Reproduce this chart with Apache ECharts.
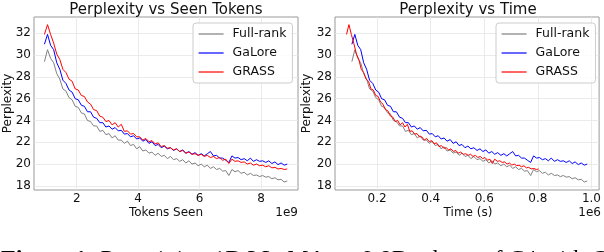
<!DOCTYPE html>
<html><head><meta charset="utf-8">
<script src="https://cdn.jsdelivr.net/npm/echarts@6/dist/echarts.min.js"></script>
<style>html,body{margin:0;padding:0;background:#fff}#c{width:604px;height:252px}</style>
</head><body><div id="c"></div><script>
// tokens seen (x 1e9)
const tokens = [0.95,1.05,1.15,1.25,1.35,1.45,1.55,1.65,1.75,1.85,
1.95,2.05,2.15,2.25,2.35,2.45,2.55,2.65,2.75,2.85,
2.95,3.05,3.15,3.25,3.35,3.45,3.55,3.65,3.75,3.85,
3.95,4.05,4.15,4.25,4.35,4.45,4.55,4.65,4.75,4.85,
4.95,5.05,5.15,5.25,5.35,5.45,5.55,5.65,5.75,5.85,
5.95,6.05,6.15,6.25,6.35,6.45,6.55,6.65,6.75,6.85,
6.95,7.05,7.15,7.25,7.35,7.45,7.55,7.65,7.75,7.85,
7.95,8.05,8.15,8.25,8.35,8.45,8.55,8.65,8.75,8.85];
// wall time (x 1e6 s) for Full-rank and GaLore
const timeFullGalore = [0.106,0.117,0.128,0.139,0.150,0.161,0.172,0.184,0.195,0.206,
0.217,0.228,0.239,0.250,0.261,0.272,0.284,0.295,0.306,0.317,
0.328,0.339,0.350,0.361,0.372,0.384,0.395,0.406,0.417,0.428,
0.439,0.450,0.461,0.473,0.484,0.495,0.506,0.517,0.528,0.539,
0.550,0.561,0.573,0.584,0.595,0.606,0.617,0.628,0.639,0.650,
0.662,0.673,0.684,0.695,0.706,0.717,0.728,0.739,0.750,0.761,
0.773,0.784,0.795,0.806,0.817,0.828,0.839,0.850,0.862,0.873,
0.884,0.895,0.906,0.917,0.928,0.939,0.951,0.962,0.973,0.984];
// wall time (x 1e6 s) for GRASS
const timeGrass = [0.086,0.095,0.104,0.113,0.123,0.132,0.141,0.150,0.159,0.168,
0.177,0.186,0.195,0.204,0.213,0.222,0.231,0.240,0.250,0.259,
0.268,0.277,0.286,0.295,0.304,0.313,0.322,0.331,0.340,0.349,
0.358,0.367,0.376,0.385,0.395,0.404,0.413,0.422,0.431,0.440,
0.449,0.458,0.467,0.476,0.485,0.494,0.503,0.512,0.522,0.531,
0.540,0.549,0.558,0.567,0.576,0.585,0.594,0.603,0.612,0.621,
0.630,0.639,0.649,0.658,0.667,0.676,0.685,0.694,0.703,0.712,
0.721,0.730,0.739,0.748,0.757,0.766,0.775,0.785,0.794,0.803];
const fullRank = [29.4,30.5,29.7,29.3,28.3,27.8,26.9,26.7,26.1,25.9,
25.3,25.2,24.7,24.6,24.0,23.9,23.5,23.5,23.0,23.1,
22.7,22.8,22.4,22.6,22.2,22.2,21.9,22.1,21.7,21.8,
21.4,21.6,21.2,21.3,21.0,21.1,20.8,21.0,20.7,20.8,
20.5,20.7,20.4,20.5,20.25,20.4,20.1,20.3,20.0,20.1,
19.85,20.0,19.75,19.9,19.6,19.75,19.5,19.6,19.35,19.4,
18.95,19.5,19.3,19.4,19.15,19.25,19.0,19.15,18.95,19.0,
18.85,18.95,18.8,18.85,18.65,18.75,18.55,18.6,18.35,18.45];
const galore = [31.0,31.9,30.9,30.5,29.3,28.7,27.7,27.4,26.8,26.6,
26.0,25.9,25.4,25.3,24.8,24.8,24.3,24.2,23.8,23.8,
23.4,23.5,23.2,23.35,23.05,23.1,22.75,22.8,22.5,22.6,
22.3,22.4,22.1,22.25,21.9,22.05,21.7,21.8,21.5,21.65,
21.4,21.5,21.25,21.4,21.15,21.3,21.0,21.15,20.9,21.05,
20.8,20.95,20.75,20.95,21.15,20.75,20.8,20.55,20.55,20.35,
20.15,20.75,20.55,20.6,20.4,20.5,20.3,20.55,20.25,20.4,
20.25,20.3,20.15,20.3,20.05,20.2,19.95,20.1,19.9,20.0];
const grass = [31.9,32.8,31.9,31.1,30.1,29.6,28.7,28.4,27.8,27.6,
26.9,26.8,26.3,26.2,25.7,25.5,25.0,24.9,24.4,24.3,
23.9,24.0,23.6,23.8,23.4,23.65,23.0,23.05,22.75,22.8,
22.5,22.5,22.2,22.35,22.05,22.15,21.85,21.95,21.6,21.7,
21.45,21.5,21.3,21.4,21.15,21.25,21.0,21.1,20.9,20.95,
20.8,20.9,20.7,20.8,20.6,20.7,20.5,20.6,20.35,20.45,
20.05,20.45,20.25,20.3,20.15,20.2,20.0,20.1,19.9,20.0,
19.85,19.9,19.75,19.85,19.65,19.7,19.55,19.6,19.5,19.55];
const seriesNames = ['Full-rank','GaLore','GRASS'];
const seriesColors = ['#808080','#0000ff','#ff0000'];
const tokenTicks = [2,4,6,8];
const timeTicks = [0.2,0.4,0.6,0.8,1.0];
const ppxTicks = [18,20,22,24,26,28,30,32];

const FONT = 'DejaVu Sans';
const TXT = '#111';
const pair = (xs, ys) => xs.map((x, i) => [x, ys[i]]);

function xAxis(grid, min, max, ticks, fmt) {
  return {
    type: 'value', gridIndex: grid, min, max,
    axisLine: {show: false},
    axisTick: {show: false, customValues: ticks},
    axisLabel: {customValues: ticks, margin: 3, fontSize: 12, fontFamily: FONT, color: TXT, formatter: fmt},
    splitLine: {show: true, lineStyle: {color: '#e6e6e6', width: 0.8}}
  };
}
function yAxis(grid) {
  return {
    type: 'value', gridIndex: grid, min: 17.62, max: 33.5,
    axisLine: {show: false},
    axisTick: {show: false, customValues: ppxTicks},
    axisLabel: {customValues: ppxTicks, margin: 3, fontSize: 12, fontFamily: FONT, color: TXT},
    splitLine: {show: true, lineStyle: {color: '#e6e6e6', width: 0.8}}
  };
}
function legend(left) {
  return {
    left, top: 23, orient: 'vertical', itemWidth: 25, itemHeight: 14, itemGap: 5,
    padding: [4, 6, 4, 5], borderColor: '#cccccc', borderWidth: 1, borderRadius: 3,
    backgroundColor: 'rgba(255,255,255,0.85)', selectedMode: false,
    itemStyle: {opacity: 0},
    lineStyle: {width: 1.2},
    textStyle: {fontSize: 12.5, lineHeight: 14, fontFamily: FONT, color: TXT, padding: [0, 0, 0, 4]},
    data: seriesNames
  };
}
function line(name, color, xi, data) {
  return {
    name, type: 'line', xAxisIndex: xi, yAxisIndex: xi, data,
    symbol: 'none', showSymbol: false, animation: false,
    lineStyle: {color, width: 1}, itemStyle: {color}
  };
}
function txt(x, y, text, size, opts) {
  return Object.assign({type: 'text', x, y, silent: true,
    style: {text, fontSize: size, fontFamily: FONT, fill: TXT, align: 'center', verticalAlign: 'middle'}}, opts || {});
}

const chart = echarts.init(document.getElementById('c'), null, {renderer: 'canvas'});
chart.setOption({
  animation: false,
  backgroundColor: '#fff',
  grid: [
    {left: 34, top: 17, width: 264, height: 173, show: true, borderColor: '#999', borderWidth: 1, backgroundColor: 'transparent'},
    {left: 335, top: 17, width: 266, height: 173, show: true, borderColor: '#999', borderWidth: 1, backgroundColor: 'transparent'}
  ],
  xAxis: [
    xAxis(0, 0.61, 9.2, tokenTicks, v => String(v)),
    xAxis(1, 0.043, 1.0285, timeTicks, v => v.toFixed(1))
  ],
  yAxis: [yAxis(0), yAxis(1)],
  legend: [legend(193), legend(496)],
  series: [
    line(seriesNames[0], seriesColors[0], 0, pair(tokens, fullRank)),
    line(seriesNames[1], seriesColors[1], 0, pair(tokens, galore)),
    line(seriesNames[2], seriesColors[2], 0, pair(tokens, grass)),
    line(seriesNames[0], seriesColors[0], 1, pair(timeFullGalore, fullRank)),
    line(seriesNames[1], seriesColors[1], 1, pair(timeFullGalore, galore)),
    line(seriesNames[2], seriesColors[2], 1, pair(timeGrass, grass))
  ],
  graphic: [
    txt(166, 9.8, 'Perplexity vs Seen Tokens', 15),
    txt(468, 9.8, 'Perplexity vs Time', 15),
    txt(166, 213, 'Tokens Seen', 12),
    txt(468, 213, 'Time (s)', 12),
    txt(298, 213, '1e9', 12, {style: {text: '1e9', fontSize: 12, fontFamily: FONT, fill: TXT, align: 'right', verticalAlign: 'middle'}}),
    txt(601, 213, '1e6', 12, {style: {text: '1e6', fontSize: 12, fontFamily: FONT, fill: TXT, align: 'right', verticalAlign: 'middle'}}),
    txt(7.5, 103.5, 'Perplexity', 12, {rotation: Math.PI / 2}),
    txt(307, 103.5, 'Perplexity', 12, {rotation: Math.PI / 2}),
    {type: 'text', x: 1, y: 260, silent: true, style: {
      text: '{b|Figure 1:} Pretraining 1B LLaMA on 9.8B tokens of C4 with GRASS',
      fontSize: 24, fontFamily: 'Liberation Serif', fill: '#000', align: 'left', verticalAlign: 'middle',
      rich: {b: {fontSize: 24, fontFamily: 'Liberation Serif', fontWeight: 'bold', fill: '#000'}}
    }}
  ]
});
</script></body></html>
